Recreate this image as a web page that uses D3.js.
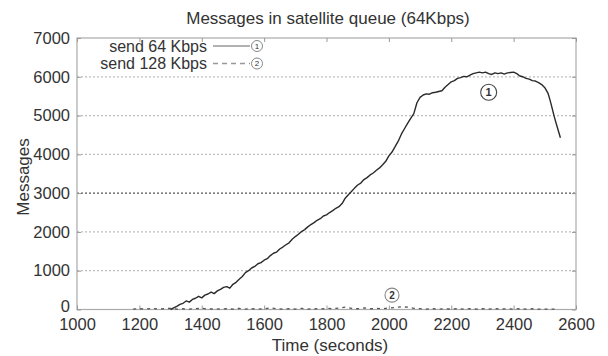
<!DOCTYPE html>
<html>
<head>
<meta charset="utf-8">
<script src="https://cdn.jsdelivr.net/npm/d3@7"></script>
<style>
  html, body { margin: 0; padding: 0; background: #fff; }
  svg { display: block; }
  text { font-family: "Liberation Sans", Arial, sans-serif; fill: #333; }
</style>
</head>
<body>
<svg id="chart" width="608" height="356"></svg>
<script>
// Queue length over time for a 64 Kbps send rate
const time64 = [1300,1310,1320,1330,1340,1350,1360,1370,1380,1390,1400,1410,1420,1430,1440,1450,1460,1470,1480,1490,
  1500,1510,1520,1530,1540,1550,1560,1570,1580,1590,1600,1610,1620,1630,1640,1650,1660,1670,1680,1690,
  1700,1710,1720,1730,1740,1750,1760,1770,1780,1790,1800,1810,1820,1830,1840,1850,1860,1870,1880,1890,
  1900,1910,1920,1930,1940,1950,1960,1970,1980,1990,2000,2010,2020,2030,2040,2050,2060,2070,2080,2090,
  2100,2110,2120,2130,2140,2150,2160,2170,2180,2190,2200,2210,2220,2230,2240,2250,2260,2270,2280,2290,
  2300,2310,2320,2330,2340,2350,2360,2370,2380,2390,2400,2410,2420,2430,2440,2450,2460,2470,2480,2490,
  2500,2510,2515,2520,2530,2540,2550];
const msgs64 = [0,40,80,130,160,220,190,260,290,340,300,370,400,450,410,480,520,570,590,550,
  650,700,780,850,950,1000,1070,1110,1180,1210,1270,1310,1390,1450,1480,1560,1610,1670,1720,1810,
  1880,1940,2010,2060,2130,2190,2240,2300,2340,2410,2440,2500,2550,2610,2650,2730,2870,2960,3040,3130,
  3210,3260,3350,3400,3470,3520,3590,3650,3730,3820,3960,4060,4200,4340,4520,4660,4800,4930,5050,5330,
  5470,5530,5560,5550,5590,5600,5620,5640,5730,5800,5870,5900,5960,5980,6010,6000,6040,6080,6100,6120,
  6100,6120,6080,6060,6100,6080,6100,6070,6100,6110,6120,6080,6020,6000,5960,5940,5900,5890,5850,5800,
  5720,5580,5450,5300,4980,4700,4430];

// Queue length for a 128 Kbps send rate (stays close to empty)
const time128 = [1180,1200,1220,1240,1260,1280,1300,1320,1340,1360,1380,1400,1420,1440,1460,1480,1500,1520,1540,1560,
  1580,1600,1620,1640,1660,1680,1700,1720,1740,1760,1780,1800,1820,1840,1860,1880,1900,1920,1940,1960,
  1980,2000,2020,2040,2060,2080,2100,2120,2140,2160,2180,2200,2220,2240,2260,2280,2300,2320,2340,2360,
  2380,2400,2420,2440,2460,2480,2500,2520,2540];
const msgs128 = [10,20,10,30,10,20,30,10,20,10,20,30,10,20,10,20,10,30,10,20,
  10,20,40,20,10,20,10,30,10,20,10,30,20,40,60,30,20,40,20,30,
  20,40,50,70,60,30,20,10,20,10,20,10,20,10,20,10,20,10,20,10,
  20,10,20,10,20,10,10,10,10];

const xTicks = [1000,1200,1400,1600,1800,2000,2200,2400,2600];
const yTicks = [0,1000,2000,3000,4000,5000,6000,7000];

const titleText = "Messages in satellite queue (64Kbps)";
const xLabel = "Time (seconds)";
const yLabel = "Messages";
const legendLabels = ["send 64 Kbps", "send 128 Kbps"];
const curveTags = ["1", "2"];
const tagTimes = [2320, 2010];
const tagMsgs = [5600, 370];

const margin = {left: 77, right: 32, top: 38, bottom: 46.5};
const W = 608, H = 356;
const svg = d3.select("#chart");

const x = d3.scaleLinear().domain([1000, 2600]).range([margin.left, W - margin.right]);
const y = d3.scaleLinear().domain([0, 7000]).range([H - margin.bottom, margin.top]);

// horizontal grid
svg.append("g").selectAll("line").data(yTicks.filter(v => v > 0 && v < 7000)).join("line")
  .attr("x1", x(1000)).attr("x2", x(2600))
  .attr("y1", d => y(d)).attr("y2", d => y(d))
  .attr("stroke", d => d === 3000 ? "#555" : "#bdbdbd")
  .attr("stroke-width", 1.2)
  .attr("stroke-dasharray", "2,2");

// frame
svg.append("rect")
  .attr("x", x(1000)).attr("y", y(7000))
  .attr("width", x(2600) - x(1000)).attr("height", y(0) - y(7000))
  .attr("fill", "none").attr("stroke", "#aaa").attr("stroke-width", 1.2);

// axes (ticks mirrored on all sides)
const tickCol = "#999";
const axBottom = svg.append("g").attr("transform", `translate(0,${y(0)})`)
  .call(d3.axisBottom(x).tickValues(xTicks).tickSize(-4).tickPadding(10).tickFormat(d3.format("d")));
const axTop = svg.append("g").attr("transform", `translate(0,${y(7000)})`)
  .call(d3.axisTop(x).tickValues(xTicks).tickSize(-4).tickFormat(""));
const axLeft = svg.append("g").attr("transform", `translate(${x(1000)},0)`)
  .call(d3.axisLeft(y).tickValues(yTicks).tickSize(-4).tickPadding(7).tickFormat(d3.format("d")));
const axRight = svg.append("g").attr("transform", `translate(${x(2600)},0)`)
  .call(d3.axisRight(y).tickValues(yTicks).tickSize(-4).tickFormat(""));
[axBottom, axTop, axLeft, axRight].forEach(g => {
  g.select(".domain").remove();
  g.selectAll(".tick line").attr("stroke", tickCol);
  g.selectAll("text").attr("font-size", 16.5).attr("fill", "#333")
    .style("font-family", "'Liberation Sans', Arial, sans-serif");
});
axBottom.selectAll("text").attr("dy", "0.66em");
axLeft.selectAll(".tick").filter(d => d === 0).select("text").attr("dy", "0.1em");

// series
const line = d3.line().x(d => x(d[0])).y(d => y(d[1]));
svg.append("path")
  .datum(time128.map((t, i) => [t, msgs128[i]]))
  .attr("d", line).attr("fill", "none")
  .attr("stroke", "#555").attr("stroke-width", 1.3).attr("stroke-dasharray", "3,4");
svg.append("path")
  .datum(time64.map((t, i) => [t, msgs64[i]]))
  .attr("d", line).attr("fill", "none")
  .attr("stroke", "#2a2a2a").attr("stroke-width", 1.4).attr("stroke-linejoin", "round");

// circled curve tags
curveTags.forEach((tag, i) => {
  const g = svg.append("g").attr("transform", `translate(${x(tagTimes[i])},${y(tagMsgs[i])})`);
  g.append("circle").attr("r", i === 0 ? 8 : 7).attr("fill", "#fff")
    .attr("stroke", i === 0 ? "#444" : "#888").attr("stroke-width", 1.1);
  g.append("text").attr("text-anchor", "middle").attr("dy", "0.36em")
    .attr("font-size", i === 0 ? 11 : 10).attr("font-weight", "bold")
    .attr("fill", i === 0 ? "#333" : "#888").text(tag);
});

// legend
const legend = svg.append("g");
legendLabels.forEach((lab, i) => {
  const ly = 46 + i * 17.5;
  legend.append("text").attr("x", 207).attr("y", ly).attr("dy", "0.35em")
    .attr("text-anchor", "end").attr("font-size", 16).attr("fill", "#333").text(lab);
  legend.append("line").attr("x1", 213).attr("x2", 250).attr("y1", ly).attr("y2", ly)
    .attr("stroke", "#999").attr("stroke-width", 1.3)
    .attr("stroke-dasharray", i === 0 ? null : "5,4");
  legend.append("circle").attr("cx", 257).attr("cy", ly).attr("r", 5.5)
    .attr("fill", "#fff").attr("stroke", "#888").attr("stroke-width", 1);
  legend.append("text").attr("x", 257).attr("y", ly).attr("dy", "0.36em")
    .attr("text-anchor", "middle").attr("font-size", 8).attr("fill", "#777").text(curveTags[i]);
});

// titles
svg.append("text").attr("x", 328).attr("y", 24).attr("text-anchor", "middle")
  .attr("font-size", 17).attr("fill", "#333").text(titleText);
svg.append("text").attr("x", 330).attr("y", 351).attr("text-anchor", "middle")
  .attr("font-size", 17).attr("fill", "#333").text(xLabel);
svg.append("text").attr("transform", "translate(29,177) rotate(-90)").attr("text-anchor", "middle")
  .attr("font-size", 17).attr("fill", "#333").text(yLabel);
</script>
</body>
</html>
